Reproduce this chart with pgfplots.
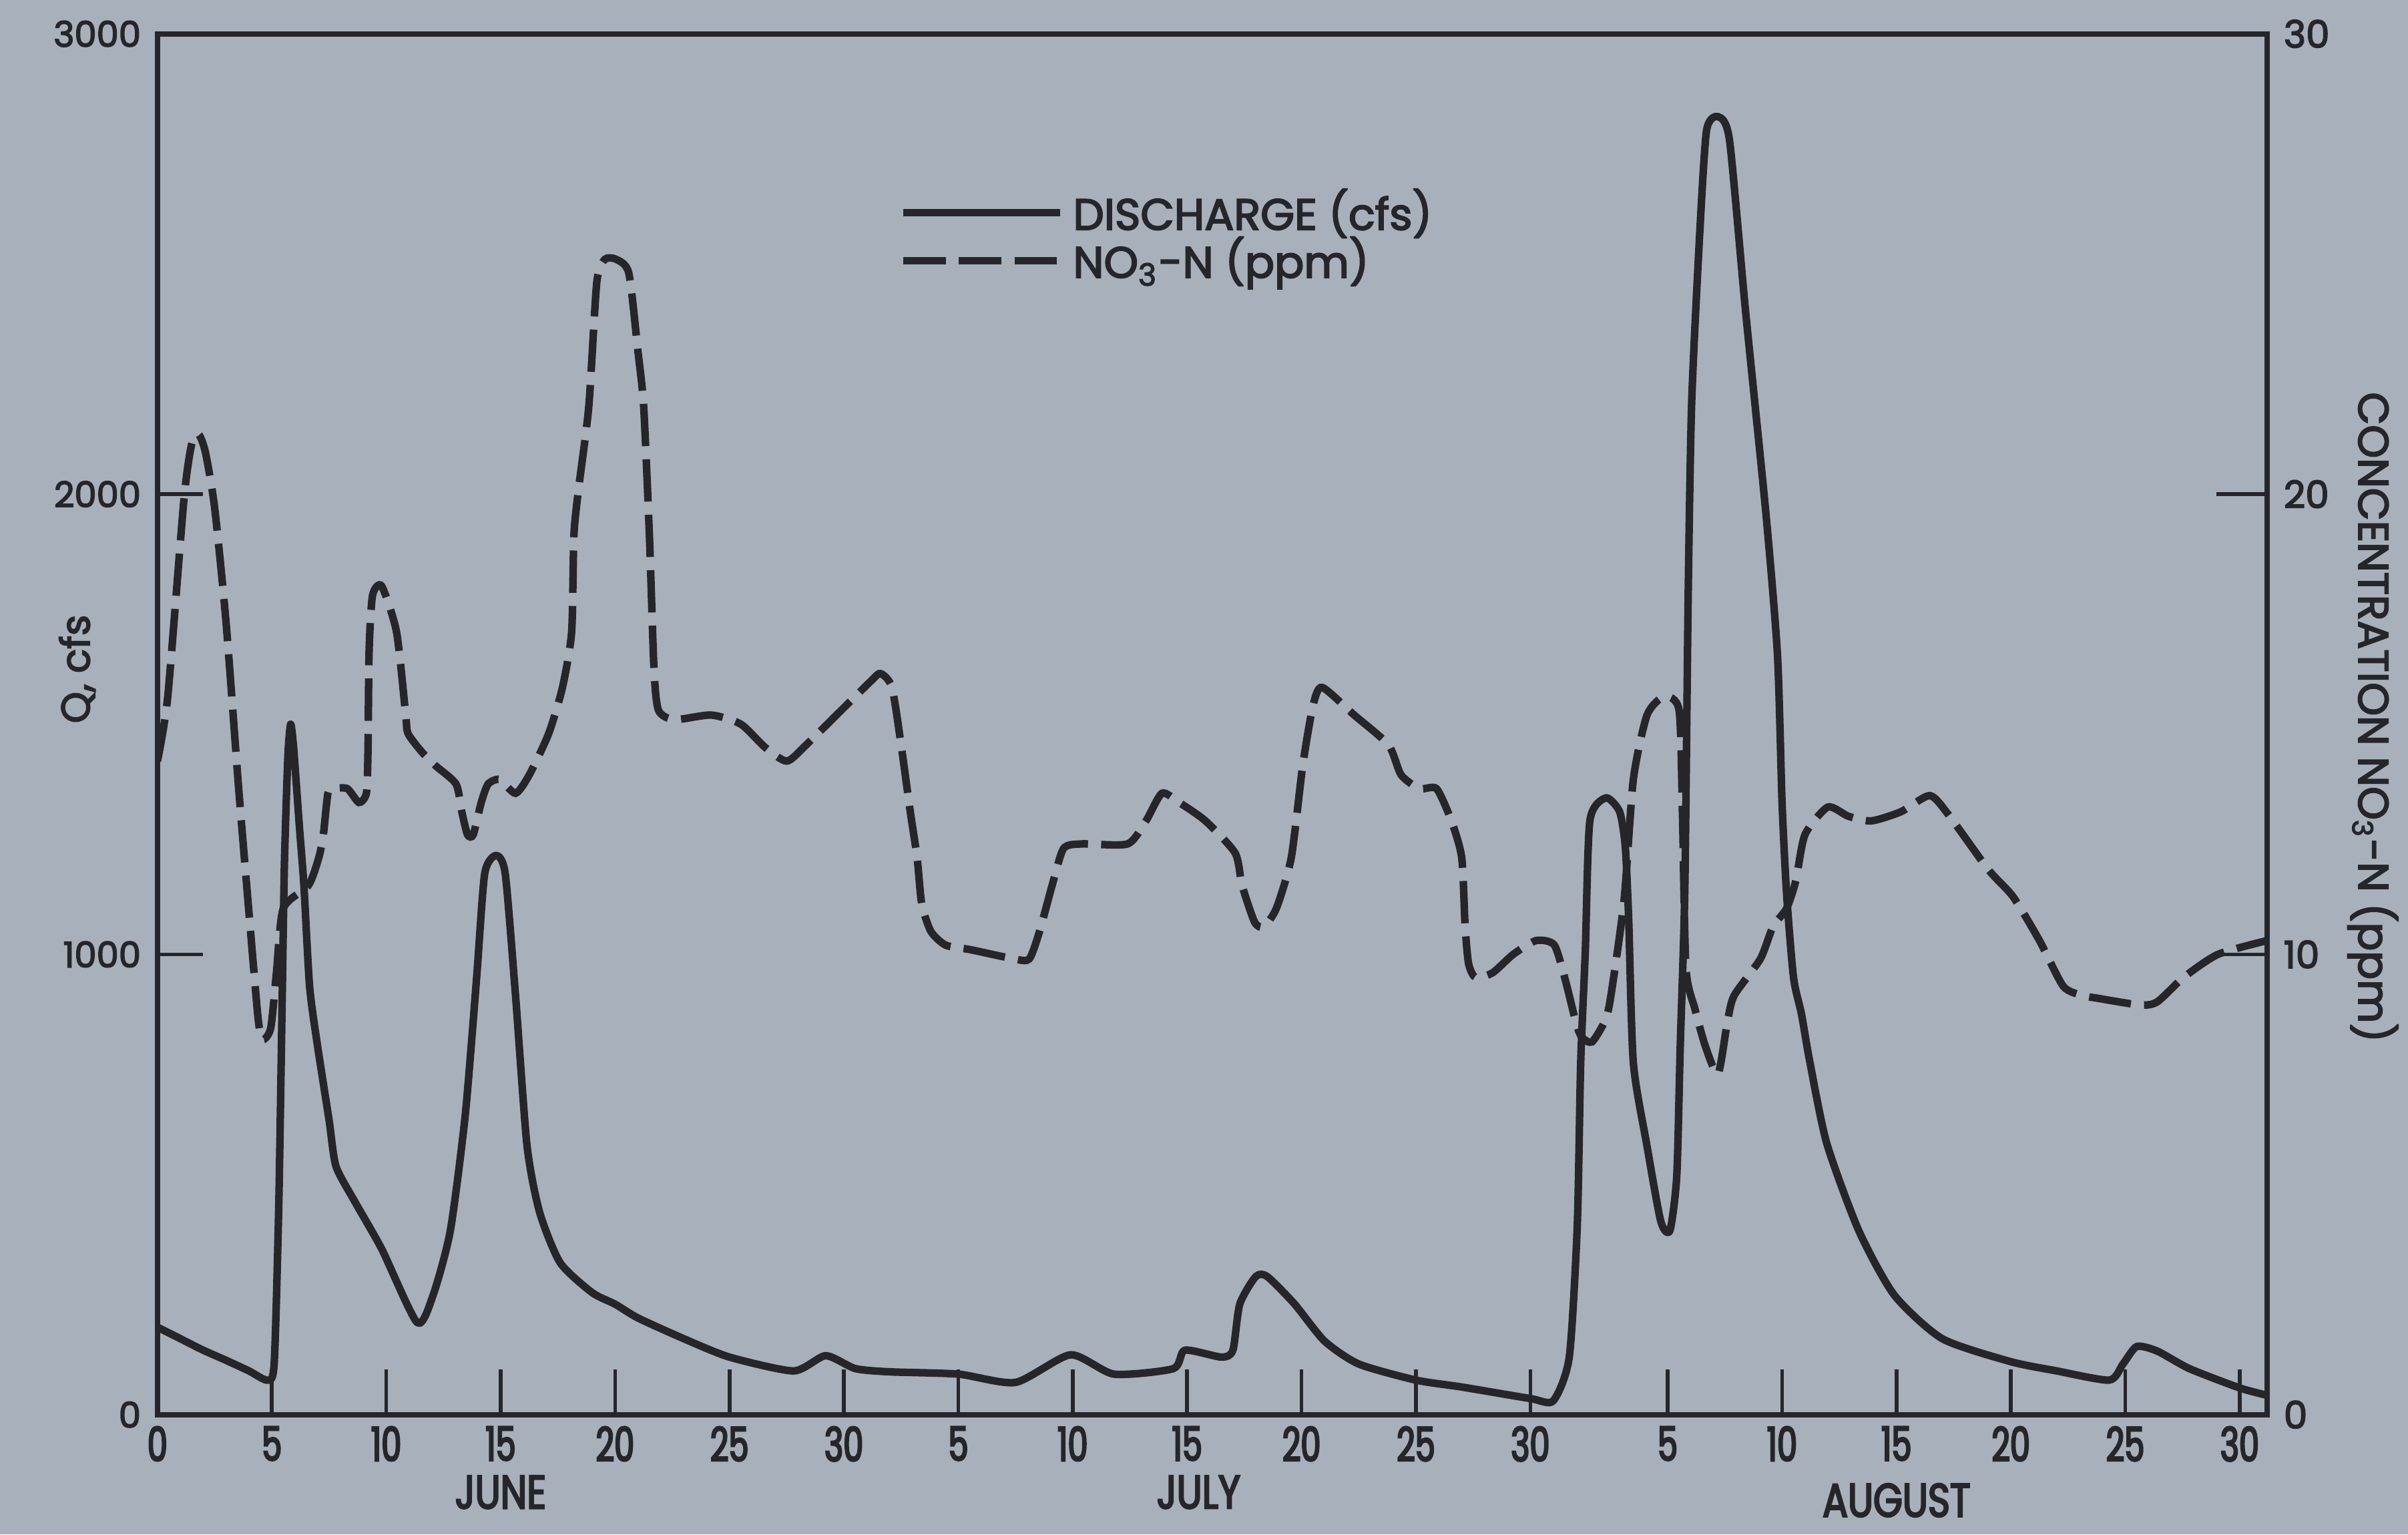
\documentclass[border=0pt]{standalone}
\usepackage{fontspec}
\setmainfont{Poppins}[RawFeature={embolden=3}]
\newfontfamily\narrowfont{Poppins}[FakeStretch=0.68, RawFeature={embolden=3.5}]
\newfontfamily\monthfont{Poppins}[FakeStretch=0.8, RawFeature={embolden=3.5}]
\usepackage{xcolor}
\usepackage{pgfplots}
\pgfplotsset{compat=1.18}
\usetikzlibrary{calc}

\definecolor{paper}{RGB}{168,176,188}
\definecolor{ink}{RGB}{38,38,42}

% discharge, cfs (day counted from 0 June)
\pgfplotstableread{
day q
0 190
1 165
2 140
3 118
4 95
4.8 75
5.1 110
5.3 450
5.45 900
5.55 1200
5.7 1430
5.82 1500
5.95 1450
6.2 1280
6.4 1150
6.65 930
7.0 800
7.5 640
7.8 540
8.6 465
9.8 360
11.35 200
12.05 260
12.8 400
13.45 650
13.95 950
14.3 1175
14.8 1215
15.2 1175
15.65 910
16.15 585
16.7 440
17.6 330
19 265
20 240
21 210
23 165
25 125
27.8 95
29.2 128
30.5 100
32 93
35 88
37.5 70
39.9 130
41.8 88
44.4 100
44.9 140
46.5 125
47.0 140
47.3 240
48.0 300
48.5 300
49.7 240
51 160
52.5 110
55 75
57 60
60 35
61 30
61.7 125
62.05 410
62.2 765
62.4 1005
62.6 1290
63.3 1340
63.9 1310
64.15 1233
64.3 1072
64.5 765
65.1 583
65.7 420
66.1 400
66.4 520
66.55 800
66.75 1140
66.9 1790
67.05 2200
67.4 2565
67.7 2790
68.2 2820
68.7 2770
69.4 2400
70.3 1955
70.8 1650
71.0 1330
71.2 1130
71.5 950
71.85 870
72.2 770
72.95 590
74.35 400
75.9 260
78 165
81 115
83 95
85.3 75
85.9 110
86.5 148
87.4 138
88.8 100
91 58
92.2 42
}\discharge

% nitrate, ppm
\pgfplotstableread{
day c
0 14.2
0.45 15.6
1.16 19.9
1.5 21.1
1.8 21.3
2.1 20.9
2.5 19.7
3.0 17.2
3.55 13.6
4.0 10.9
4.4 8.6
4.6 8.15
4.95 8.4
5.2 9.6
5.5 11.0
6.6 11.5
7.05 12.1
7.25 12.6
7.45 13.5
7.7 13.6
8.3 13.6
8.8 13.3
9.13 13.5
9.2 14.4
9.25 16.6
9.4 17.8
9.8 18.0
10.45 17.0
10.85 15.2
10.95 14.8
11.55 14.4
12.15 14.1
13.05 13.7
13.3 13.1
13.55 12.6
13.8 12.6
14.15 13.3
14.45 13.7
14.95 13.8
15.65 13.5
16.25 13.9
17.1 14.8
17.7 15.8
18.1 17.0
18.2 19.1
18.4 20.1
18.85 21.9
19.2 24.6
19.55 25.1
20.05 25.1
20.6 24.8
21.0 23.1
21.25 21.9
21.5 19.1
21.7 16.2
21.9 15.3
22.6 15.1
24.2 15.2
25.5 15.0
26.55 14.5
27.5 14.2
28.35 14.55
31.1 15.9
31.6 16.1
32.1 15.8
32.5 14.55
32.9 13.1
33.2 12.1
33.4 11.1
33.8 10.5
34.45 10.2
35.55 10.1
37.45 9.9
38.1 9.9
38.55 10.5
39.1 11.5
39.6 12.3
40.4 12.4
42.4 12.4
43.2 12.9
43.9 13.5
44.65 13.3
45.8 12.9
47.1 12.2
47.4 11.5
47.95 10.7
48.35 10.6
48.9 11.0
49.55 12.1
50.05 14.1
50.5 15.4
50.9 15.8
52.3 15.2
53.8 14.55
54.35 13.9
55.15 13.6
55.9 13.6
56.55 12.9
57.0 12.1
57.15 10.6
57.3 9.8
57.6 9.5
58.35 9.6
59.25 10.0
60.25 10.3
61.05 10.2
61.55 9.4
62.0 8.5
62.25 8.2
62.7 8.1
63.3 8.6
63.55 9.2
64.1 11.2
64.5 13.8
65.1 15.2
65.85 15.6
66.5 15.3
66.65 13.0
66.8 9.7
67.2 8.8
67.65 8.0
68.2 7.4
68.6 8.5
68.9 9.1
70.05 9.9
70.6 10.6
71.2 11.0
71.6 11.6
72.0 12.6
73.0 13.2
73.9 13.0
74.9 12.9
76.2 13.1
77.45 13.45
78.25 13.05
80.0 11.85
81.1 11.25
82.25 10.3
83.3 9.3
84.2 9.1
84.75 9.05
86.65 8.9
87.4 8.97
88.55 9.5
90.05 10.0
92.2 10.3
}\nitrate

\tikzset{
  qline/.style={ink, line width=1.6pt, line join=round},
  nline/.style={ink, line width=1.6pt, dash pattern=on 9pt off 2.8pt},
}

\begin{document}
\begin{tikzpicture}
\path[use as bounding box, fill=paper] (0,0) rectangle (18cm,11.468cm);

\begin{axis}[
    at={(1.177cm,0.895cm)}, anchor=south west,
    width=15.77cm, height=10.32cm, scale only axis,
    xmin=0, xmax=92.2, ymin=0, ymax=3000,
    clip=false,
    axis line style={ink, line width=1.1pt},
    tick align=inside, major tick length=0.34cm,
    every tick/.style={ink, line width=0.8pt},
    xtick pos=left, ytick pos=left,
    xtick={0,5,10,15,20,25,30,35,40,45,50,55,60,66,71,76,81,86,91},
    xticklabels={0,5,10,15,20,25,30,5,10,15,20,25,30,5,10,15,20,25,30},
    ytick={0,1000,2000,3000},
    yticklabels={0,1000,2000,3000},
    xticklabel style={font=\narrowfont\fontsize{10}{11}\selectfont, text=ink, yshift=1pt},
    yticklabel style={font=\fontsize{7.5}{9}\selectfont, text=ink},
    legend style={at={(0.3447,0.853)}, anchor=west, draw=none, fill=none,
        font=\fontsize{9.3}{11}\selectfont, text=ink, row sep=-4pt,
        nodes={inner sep=2pt}},
    legend cell align=left,
    legend image code/.code={\draw[#1] (0cm,0cm) -- (1.17cm,0cm);},
]
\addplot[qline, smooth, tension=0.4] table[x=day, y=q] {\discharge};
\addlegendentry{DISCHARGE (cfs)}
\addlegendimage{nline}
\addlegendentry{NO\textsubscript{3}-N (ppm)}

\node[font=\monthfont\fontsize{10}{11}\selectfont, text=ink, inner sep=0pt] at ($(axis cs:15,0)+(0,-0.58cm)$) {JUNE};
\node[font=\monthfont\fontsize{10}{11}\selectfont, text=ink, inner sep=0pt] at ($(axis cs:45.5,0)+(0,-0.58cm)$) {JULY};
\node[font=\monthfont\fontsize{10}{11}\selectfont, text=ink, inner sep=0pt] at ($(axis cs:76,0)+(0,-0.64cm)$) {AUGUST};
\node[rotate=90, font=\fontsize{8.5}{10}\selectfont, text=ink] at ($(rel axis cs:0,0.54)+(-0.6cm,0)$) {Q, cfs};
\node[rotate=-90, font=\fontsize{9}{11}\selectfont, text=ink] at ($(rel axis cs:1,0.505)+(0.79cm,0)$) {CONCENTRATION NO\textsubscript{3}-N (ppm)};
\end{axis}

\begin{axis}[
    at={(1.177cm,0.895cm)}, anchor=south west,
    width=15.77cm, height=10.32cm, scale only axis,
    xmin=0, xmax=92.2, ymin=0, ymax=30,
    axis x line=none, axis y line*=right,
    axis line style={ink, line width=1.1pt},
    tick align=inside, major tick length=0.38cm,
    every tick/.style={ink, line width=0.8pt},
    ytick={0,10,20,30},
    yticklabels={0,10,20,30},
    yticklabel style={font=\fontsize{8}{10}\selectfont, text=ink},
]
\addplot[nline, smooth, tension=0.4] table[x=day, y=c] {\nitrate};
\end{axis}
\end{tikzpicture}
\end{document}
